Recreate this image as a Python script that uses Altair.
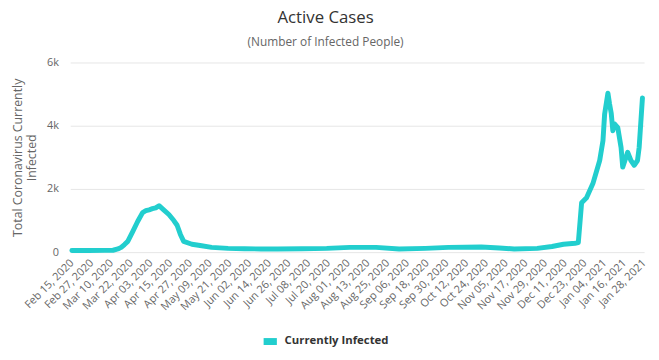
import json
import altair as alt
import pandas as pd

# ---- data ----
dates = [
    "2020-02-15", "2020-02-25", "2020-03-06", "2020-03-11", "2020-03-14", "2020-03-16",
    "2020-03-18", "2020-03-20", "2020-03-23", "2020-03-26", "2020-03-29", "2020-03-31",
    "2020-04-02", "2020-04-04", "2020-04-06", "2020-04-08", "2020-04-11", "2020-04-14",
    "2020-04-17", "2020-04-19", "2020-04-21", "2020-04-23", "2020-04-28", "2020-05-03",
    "2020-05-10", "2020-05-20", "2020-05-30", "2020-06-09", "2020-06-19", "2020-07-04",
    "2020-07-19", "2020-08-02", "2020-08-18", "2020-09-01", "2020-09-17", "2020-10-01",
    "2020-10-21", "2020-11-01", "2020-11-10", "2020-11-24", "2020-12-03", "2020-12-10",
    "2020-12-17", "2020-12-19", "2020-12-21", "2020-12-24", "2020-12-28", "2021-01-01",
    "2021-01-03", "2021-01-04", "2021-01-06", "2021-01-07", "2021-01-08", "2021-01-09",
    "2021-01-10", "2021-01-12", "2021-01-14", "2021-01-15", "2021-01-17", "2021-01-18",
    "2021-01-20", "2021-01-22", "2021-01-24", "2021-01-25", "2021-01-27",
]
infected = [
    50, 50, 55, 60, 100, 150,
    240, 340, 650, 970, 1250, 1310,
    1340, 1375, 1400, 1470, 1330, 1190,
    1000, 850, 560, 340, 250, 210,
    150, 120, 110, 100, 100, 110,
    120, 150, 150, 100, 120, 150,
    160, 130, 100, 120, 180, 250,
    280, 300, 1560, 1720, 2190, 2900,
    3530, 4370, 5030, 4690, 4400, 3840,
    4060, 3940, 3310, 2690, 3000, 3160,
    2900, 2750, 2900, 3310, 4880,
]
tick_labels = [
    "Feb 15, 2020", "Feb 27, 2020", "Mar 10, 2020", "Mar 22, 2020", "Apr 03, 2020",
    "Apr 15, 2020", "Apr 27, 2020", "May 09, 2020", "May 21, 2020", "Jun 02, 2020",
    "Jun 14, 2020", "Jun 26, 2020", "Jul 08, 2020", "Jul 20, 2020", "Aug 01, 2020",
    "Aug 13, 2020", "Aug 25, 2020", "Sep 06, 2020", "Sep 18, 2020", "Sep 30, 2020",
    "Oct 12, 2020", "Oct 24, 2020", "Nov 05, 2020", "Nov 17, 2020", "Nov 29, 2020",
    "Dec 11, 2020", "Dec 23, 2020", "Jan 04, 2021", "Jan 16, 2021", "Jan 28, 2021",
]
y_ticks = [0, 2000, 4000, 6000]
y_tick_labels = ["0", "2k", "4k", "6k"]
series_name = "Currently Infected"
tick_step = 12

start = pd.Timestamp("2020-02-15")
df = pd.DataFrame({"date": pd.to_datetime(dates), "value": infected})
df["day"] = (df["date"] - start).dt.days
df["series"] = series_name

tick_values = [i * tick_step for i in range(len(tick_labels))]
x_label_expr = json.dumps(tick_labels) + "[round(datum.value / %d)]" % tick_step
y_label_expr = json.dumps(y_tick_labels) + "[round(datum.value / 2000)]"

color = "#22cece"
font = "Open Sans"

chart = (
    alt.Chart(df)
    .mark_line(strokeWidth=5, strokeJoin="round", strokeCap="round")
    .encode(
        x=alt.X(
            "day:Q",
            scale=alt.Scale(domain=[-1, tick_values[-1]], nice=False, zero=False),
            axis=alt.Axis(
                values=tick_values,
                labelExpr=x_label_expr,
                labelAngle=-45,
                labelAlign="right",
                labelBaseline="middle",
                labelFontSize=11,
                labelColor="#666666",
                labelFont=font,
                labelPadding=9,
                labelOverlap=False,
                labelFlush=False,
                ticks=False,
                grid=False,
                domain=False,
                title=None,
            ),
        ),
        y=alt.Y(
            "value:Q",
            scale=alt.Scale(domain=[0, 6000], nice=False),
            axis=alt.Axis(
                values=y_ticks,
                labelExpr=y_label_expr,
                labelFontSize=11,
                labelColor="#666666",
                labelFont=font,
                labelPadding=12,
                ticks=False,
                domain=False,
                gridColor="#e6e6e6",
                title=["Total Coronavirus Currently", "Infected"],
                titleFont=font,
                titleFontSize=12.5,
                titleFontWeight="normal",
                titleColor="#666666",
                titlePadding=8,
            ),
        ),
        color=alt.Color(
            "series:N",
            scale=alt.Scale(domain=[series_name], range=[color]),
            legend=alt.Legend(
                title=None,
                orient="none",
                legendX=192,
                legendY=272,
                symbolType="stroke",
                symbolStrokeWidth=7,
                symbolSize=180,
                labelFont=font,
                labelFontSize=11.5,
                labelFontWeight="bold",
                labelColor="#333333",
            ),
        ),
    )
    .properties(
        width=581,
        height=192,
        title=alt.TitleParams(
            text="Active Cases",
            subtitle="(Number of Infected People)",
            anchor="middle",
            dx=-32,
            fontSize=17,
            font=font,
            fontWeight="normal",
            color="#333333",
            subtitleFont=font,
            subtitleFontSize=12,
            subtitleColor="#666666",
            subtitlePadding=10,
            offset=8,
        ),
        autosize=alt.AutoSizeParams(type="none"),
        padding={"left": 63, "top": 53, "right": 7, "bottom": 105},
    )
    .configure_view(stroke=None)
)

chart.save("out.html", embed_options={"renderer": "svg", "actions": False})
